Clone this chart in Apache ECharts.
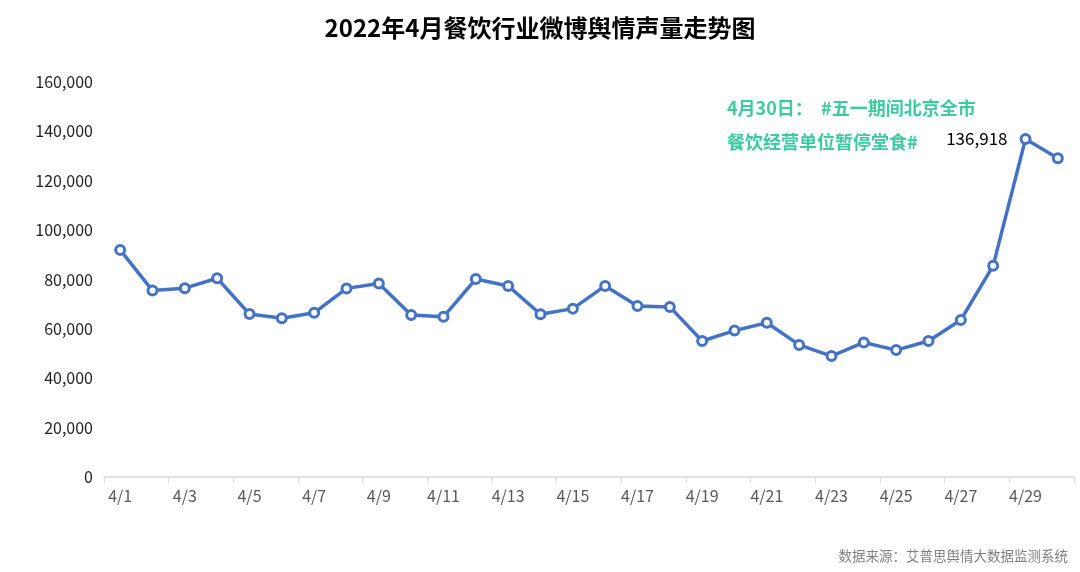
<!DOCTYPE html>
<html>
<head>
<meta charset="utf-8">
<script src="https://cdn.jsdelivr.net/npm/echarts@6/dist/echarts.min.js"></script>
<style>
  html, body { margin: 0; padding: 0; background: #fff; }
  #main { width: 1080px; height: 572px; }
</style>
</head>
<body>
<div id="main"></div>
<script>
// 日期
const days = [
  '4/1', '4/2', '4/3', '4/4', '4/5', '4/6', '4/7', '4/8', '4/9', '4/10',
  '4/11', '4/12', '4/13', '4/14', '4/15', '4/16', '4/17', '4/18', '4/19', '4/20',
  '4/21', '4/22', '4/23', '4/24', '4/25', '4/26', '4/27', '4/28', '4/29', '4/30',
]
// 声量
const volume = [
  92000, 75500, 76500, 80500, 66000, 64300, 66500, 76400, 78400, 65600,
  64900, 80200, 77400, 65900, 68200, 77400, 69300, 68900, 55100, 59300,
  62500, 53500, 49000, 54500, 51400, 55100, 63600, 85600, 136918, 129100,
]
const labelDay = '4/29'

const fmt = v => v.toLocaleString('en-US')

let myChart = echarts.init(document.getElementById('main'))

let options = {
  animation: false,
  textStyle: { fontFamily: '"Noto Sans CJK SC", "Noto Sans", sans-serif' },
  title: {
    text: '2022年4月餐饮行业微博舆情声量走势图',
    left: 'center',
    top: 11,
    textStyle: { fontSize: 24, fontWeight: 'bold', color: '#000' },
  },
  grid: { left: 104, right: 6, top: 82, bottom: 95 },
  xAxis: {
    type: 'category',
    data: days,
    boundaryGap: true,
    axisLine: { lineStyle: { color: '#d9d9d9', width: 1.5 } },
    axisTick: { show: true, interval: 1, length: 6, lineStyle: { color: '#d9d9d9' } },
    axisLabel: { interval: 1, fontSize: 16, color: '#595959', margin: 11 },
  },
  yAxis: {
    type: 'value',
    min: 0,
    max: 160000,
    interval: 20000,
    axisLine: { show: false },
    axisTick: { show: false },
    splitLine: { show: false },
    axisLabel: { fontSize: 16, color: '#222', margin: 11, formatter: v => fmt(v) },
  },
  series: [
    {
      type: 'line',
      data: volume.map((v, i) => ({
        value: v,
        label: days[i] === labelDay
          ? { show: true, position: 'left', distance: 12, formatter: p => fmt(p.value), fontSize: 17, color: '#000' }
          : { show: false },
      })),
      symbol: 'circle',
      symbolSize: 9,
      lineStyle: { color: '#4472c4', width: 3.5 },
      itemStyle: { color: '#fff', borderColor: '#4472c4', borderWidth: 3 },
    },
  ],
  graphic: [
    {
      type: 'text',
      left: 727,
      top: 91,
      style: {
        text: '4月30日：  #五一期间北京全市\n餐饮经营单位暂停堂食#',
        font: 'bold 18px "Noto Sans CJK SC"',
        fill: '#3ccaa0',
        lineHeight: 34,
      },
    },
    {
      type: 'text',
      right: 12,
      top: 549,
      style: {
        text: '数据来源：艾普思舆情大数据监测系统',
        font: '13.5px "Noto Sans CJK SC"',
        fill: '#7f7f7f',
      },
    },
  ],
}

myChart.setOption(options)
</script>
</body>
</html>
